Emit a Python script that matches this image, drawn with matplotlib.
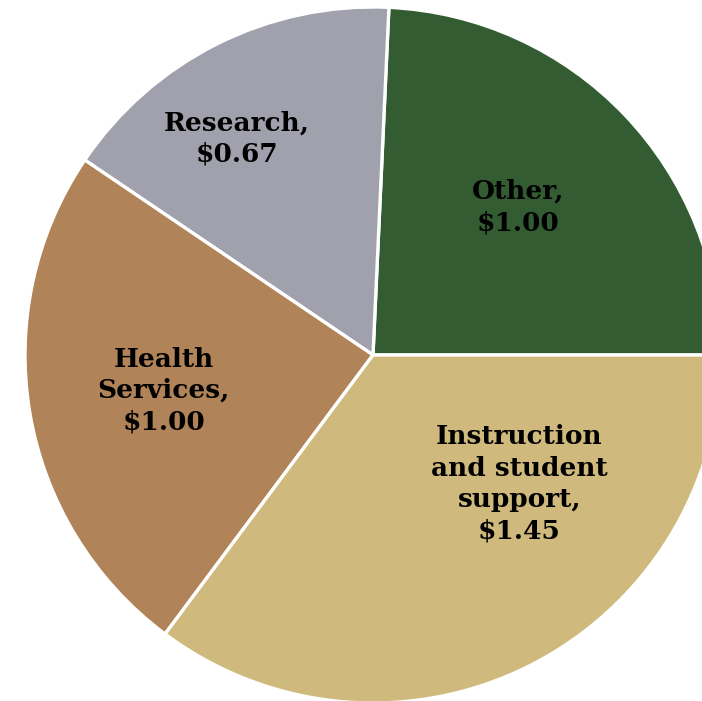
import numpy as np
import matplotlib
matplotlib.use('Agg')
from matplotlib import pyplot as plt

# slices, counterclockwise from 3 o'clock
labels = ['Other,\n$1.00', 'Research,\n$0.67', 'Health\nServices,\n$1.00',
          'Instruction\nand student\nsupport,\n$1.45']
values = [1.00, 0.67, 1.00, 1.45]
colors = ['#335c33', '#a0a1ad', '#b08458', '#cfb97c']

fig = plt.figure(figsize=(7.02, 7.01), dpi=100)
ax = fig.add_axes([0, 0, 1, 1])

wedges, _ = ax.pie(values, colors=colors, startangle=0, counterclock=True,
                   radius=1.0, wedgeprops=dict(edgecolor='white', linewidth=2.4))

# label placement: (radius, angle offset in degrees) relative to wedge middle
offsets = [(0.595, 2.0), (0.735, 5.5), (0.61, 0.0), (0.56, 22.0)]
for w, lab, (r, da) in zip(wedges, labels, offsets):
    mid = np.deg2rad((w.theta1 + w.theta2) / 2 + da)
    ax.text(r * np.cos(mid), r * np.sin(mid), lab, ha='center', va='center',
            family='DejaVu Serif', fontweight='bold', fontsize=19,
            linespacing=1.32, color='black')

ax.set_xlim(-373 / 348, 329 / 348)
ax.set_ylim(-346 / 348, 355 / 348)
ax.set_aspect('equal')
ax.axis('off')

plt.savefig('out.png', dpi=100)
